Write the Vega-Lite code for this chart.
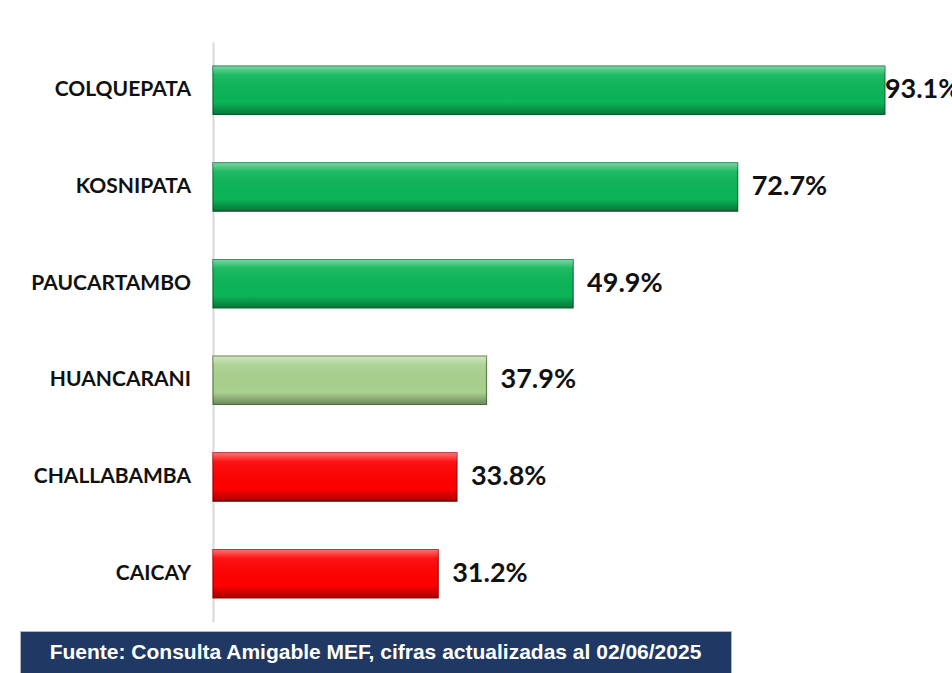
{
  "$schema": "https://vega.github.io/schema/vega-lite/v6.json",
  "background": "white",
  "padding": {"left": 19, "top": 42, "right": 0, "bottom": 0},
  "spacing": 8,
  "config": {"view": {"stroke": null}},
  "datasets": {
    "distritos": [
      {"distrito": "COLQUEPATA", "valor": 93.1, "etiqueta": "93.1%", "grupo": "alto"},
      {"distrito": "KOSNIPATA", "valor": 72.7, "etiqueta": "72.7%", "grupo": "alto"},
      {"distrito": "PAUCARTAMBO", "valor": 49.9, "etiqueta": "49.9%", "grupo": "alto"},
      {"distrito": "HUANCARANI", "valor": 37.9, "etiqueta": "37.9%", "grupo": "medio"},
      {"distrito": "CHALLABAMBA", "valor": 33.8, "etiqueta": "33.8%", "grupo": "bajo"},
      {"distrito": "CAICAY", "valor": 31.2, "etiqueta": "31.2%", "grupo": "bajo"}
    ],
    "fuente": [{"fuente": "Fuente: Consulta Amigable MEF, cifras actualizadas al 02/06/2025"}]
  },
  "vconcat": [
    {
      "spacing": 0,
      "hconcat": [
        {
          "width": 192,
          "height": 580,
          "data": {"name": "distritos"},
          "mark": {"type": "text", "align": "right", "baseline": "middle", "dx": -21, "font": "Lato", "fontSize": 21, "fontWeight": "bold", "color": "#111111"},
          "encoding": {
            "y": {
              "field": "distrito",
              "type": "nominal",
              "sort": null,
              "scale": {"paddingInner": 0.5, "paddingOuter": 0.25},
              "axis": null
            },
            "x": {"datum": 1, "type": "quantitative", "scale": {"domain": [0, 1]}, "axis": null},
            "text": {"field": "distrito"}
          }
        },
        {
          "width": 739,
          "height": 580,
          "data": {"name": "distritos"},
          "encoding": {
            "y": {
              "field": "distrito",
              "type": "nominal",
              "sort": null,
              "scale": {"paddingInner": 0.5, "paddingOuter": 0.25},
              "axis": {
                "title": null,
                "ticks": false,
                "labels": false,
                "domainColor": "#D9D9D9",
                "domainWidth": 2,
                "minExtent": 0,
                "maxExtent": 0
              }
            },
            "x": {
              "field": "valor",
              "type": "quantitative",
              "scale": {"domain": [0, 102.4], "nice": false},
              "axis": null
            }
          },
          "layer": [
            {
              "mark": {"type": "bar", "strokeWidth": 1.2, "clip": false},
              "encoding": {
                "color": {
                  "field": "grupo",
                  "type": "nominal",
                  "scale": {"domain": ["alto", "medio", "bajo"], "range": ["#0BB557", "#A9D18E", "#FF0000"]},
                  "legend": null
                },
                "stroke": {
                  "field": "grupo",
                  "type": "nominal",
                  "scale": {"domain": ["alto", "medio", "bajo"], "range": ["#07703A", "#5E7F45", "#A00000"]},
                  "legend": null
                }
              }
            },
            {
              "mark": {
                "type": "bar",
                "fill": {
                  "gradient": "linear",
                  "x1": 0, "y1": 0, "x2": 0, "y2": 1,
                  "stops": [
                    {"offset": 0, "color": "rgba(255,255,255,0.45)"},
                    {"offset": 0.18, "color": "rgba(255,255,255,0.08)"},
                    {"offset": 0.75, "color": "rgba(0,0,0,0)"},
                    {"offset": 1, "color": "rgba(0,0,0,0.35)"}
                  ]
                }
              }
            },
            {
              "transform": [{"filter": "datum.valor < 90"}],
              "mark": {"type": "text", "align": "left", "baseline": "middle", "dx": 14, "font": "Lato", "fontSize": 27, "fontWeight": "bold", "color": "#111111"},
              "encoding": {"text": {"field": "etiqueta"}}
            },
            {
              "transform": [{"filter": "datum.valor >= 90"}],
              "mark": {"type": "text", "align": "left", "baseline": "middle", "dx": 0, "font": "Lato", "fontSize": 27, "fontWeight": "bold", "color": "#111111", "clip": false},
              "encoding": {"text": {"field": "etiqueta"}}
            }
          ]
        }
      ]
    },
    {
      "width": 711,
      "height": 43,
      "view": {"fill": "#1F3864", "stroke": "#B4B4B4", "strokeWidth": 1},
      "data": {"name": "fuente"},
      "mark": {"type": "text", "align": "center", "baseline": "middle", "font": "Liberation Sans", "fontSize": 21, "fontWeight": "bold", "color": "white"},
      "encoding": {"text": {"field": "fuente"}}
    }
  ]
}
